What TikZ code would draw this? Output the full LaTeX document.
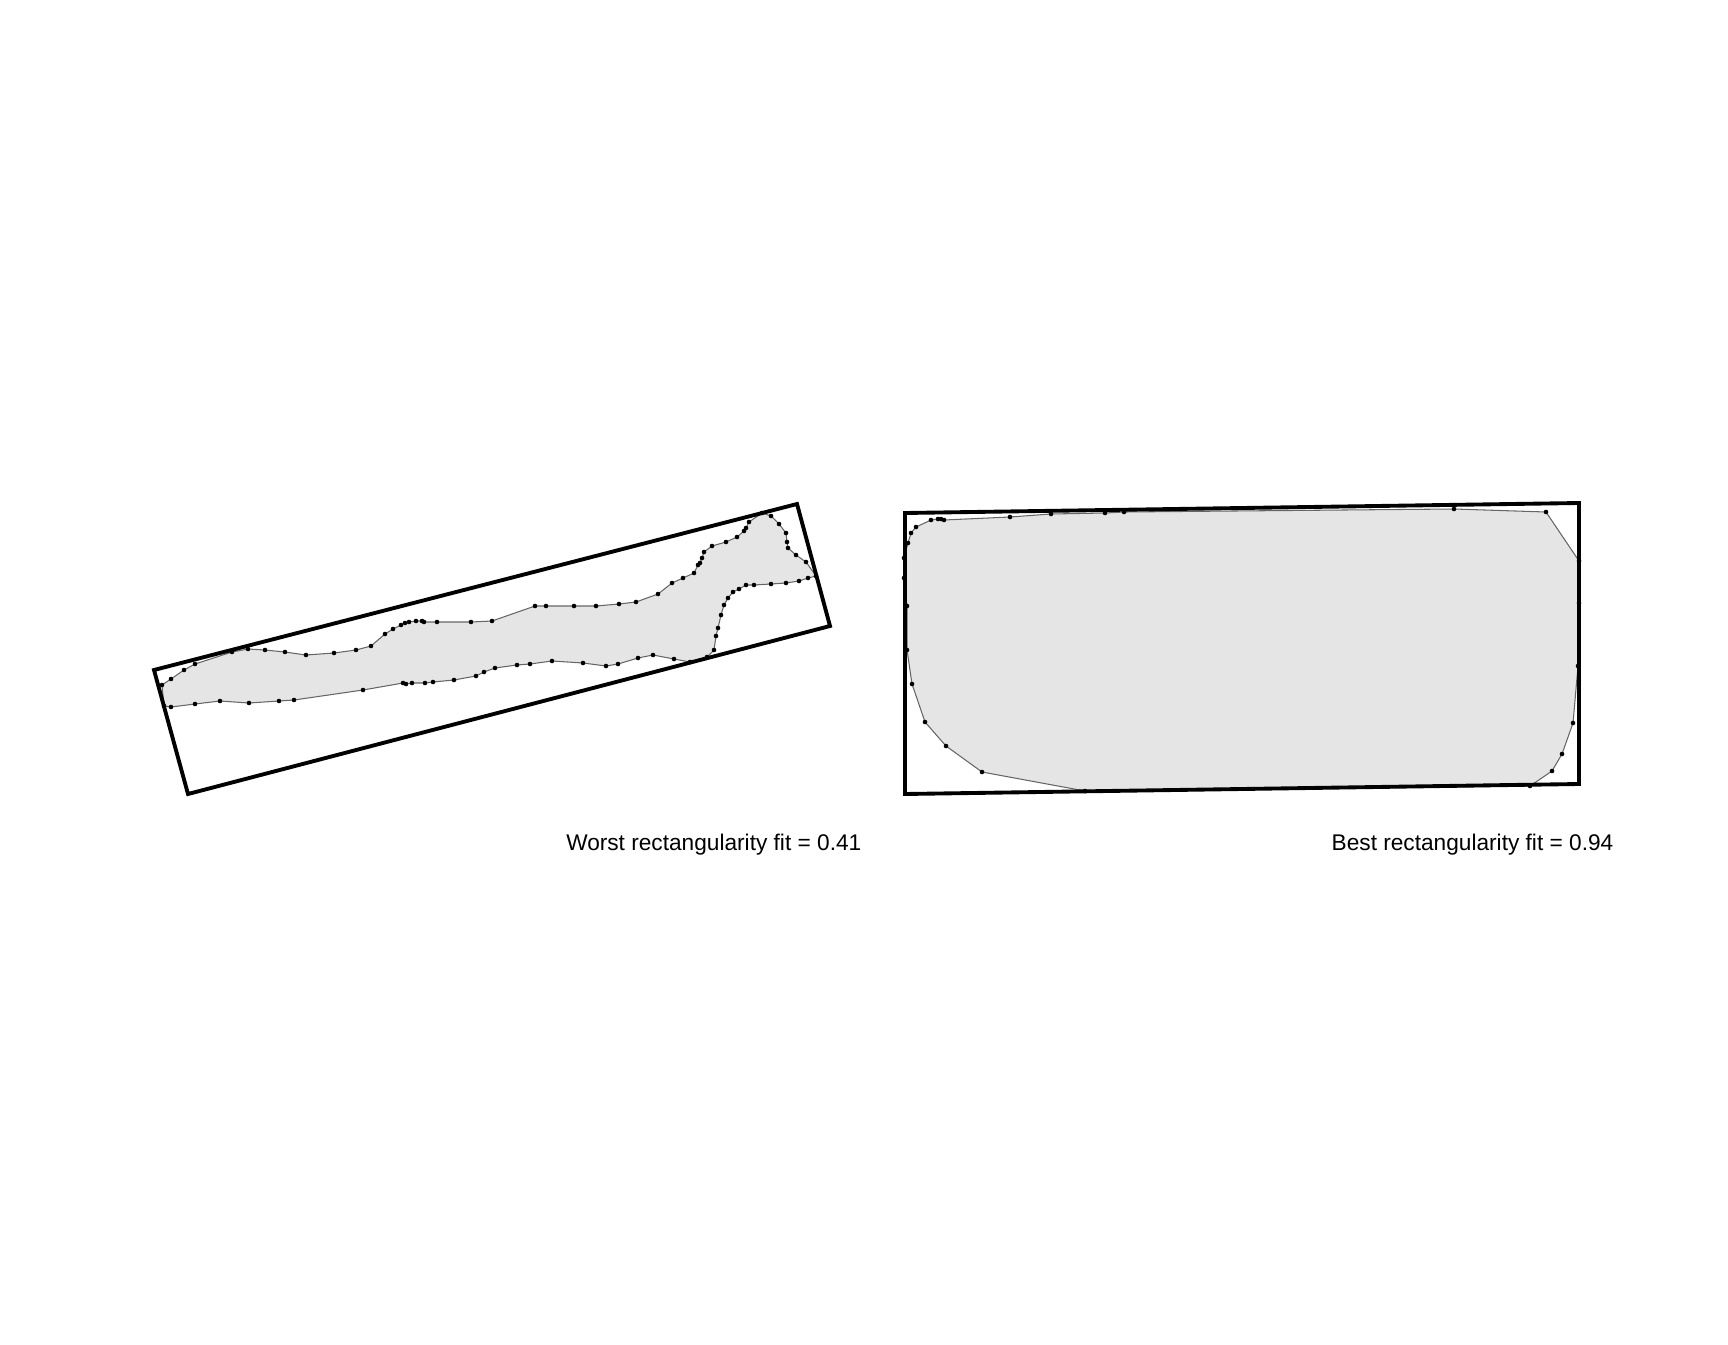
\documentclass[tikz,border=0pt]{standalone}
\usepackage{fontspec}
\setmainfont{Liberation Sans}
\usetikzlibrary{positioning}

% outline points, in pixels of the page
\def\worstpts{162/685, 171/679, 184/670, 195/664, 232/652, 248/649, 265/650,
  285/652, 306/655, 334/653, 356/650, 371/646, 385/634, 393/629, 401/625,
  405/623, 409/622, 416/621, 422/621, 424/622, 437/622, 471/622, 492/621,
  535/606, 546/606, 574/606, 596/606, 619/604, 636/602, 658/594, 672/583,
  683/578, 694/573, 698/565, 700/563, 702/558, 704/552, 712/546, 726/542,
  737/537, 744/531, 746/528, 749/522, 762/513, 771/516, 779/524, 786/533,
  787/542, 788/548, 796/555, 806/562, 816/576, 808/578, 799/581, 786/583,
  771/584, 754/585, 746/585, 739/589, 733/592, 728/598, 724/605, 721/615,
  718/628, 716/636, 714/650, 707/657, 690/662, 674/659, 653/655, 638/658,
  618/664, 606/666, 583/663, 552/661, 530/664, 517/665, 495/668, 484/672,
  476/676, 454/680, 433/682, 425/683, 412/683, 406/684, 403/683, 363/690,
  294/700, 279/701, 249/703, 220/701, 195/704, 171/707, 164/706}
\def\bestpts{908/543, 911/533, 916/527, 931/520, 938/519, 941/519, 944/520,
  1010/517, 1051/514, 1105/513, 1124/512, 1454/509, 1546/512, 1579/561,
  1579/603, 1578/666, 1573/723, 1562/754, 1552/771, 1530/786, 1085/791,
  982/772, 946/746, 925/722, 912/684, 907/650, 907/606, 904/578, 904/558}

\begin{document}
\begin{tikzpicture}[
    x=0.1mm, y=-0.1mm,
    outline/.style={fill=black!10, draw=black!60, line width=0.3pt, line join=round},
    vertex/.style={fill=black},
    fitbox/.style={draw=black, line width=1.1pt, line join=miter},
    fitlabel/.style={font=\fontsize{6.45}{7.7}\selectfont, inner sep=0pt},
]
\useasboundingbox (0,0) rectangle (1728,1344);

% worst case
\filldraw[outline] (162,685) \foreach \x/\y in \worstpts {-- (\x,\y)} -- cycle;
\foreach \x/\y in \worstpts
    \fill[vertex] (\x,\y) circle[radius=0.23mm];
\draw[fitbox] (154,670) -- (797,504) -- (830,626) -- (188,794) -- cycle;

% best case
\filldraw[outline] (908,543) \foreach \x/\y in \bestpts {-- (\x,\y)} -- cycle;
\foreach \x/\y in \bestpts
    \fill[vertex] (\x,\y) circle[radius=0.23mm];
\draw[fitbox] (905,513) -- (1579,503) -- (1579,784) -- (905,794) -- cycle;

\node[fitlabel, anchor=base east] (worstlab) at (862,850) {Worst rectangularity fit = 0.41};
\node[fitlabel, anchor=base east] (bestlab)  at (1614,850) {Best rectangularity fit = 0.94};

\end{tikzpicture}
\end{document}
